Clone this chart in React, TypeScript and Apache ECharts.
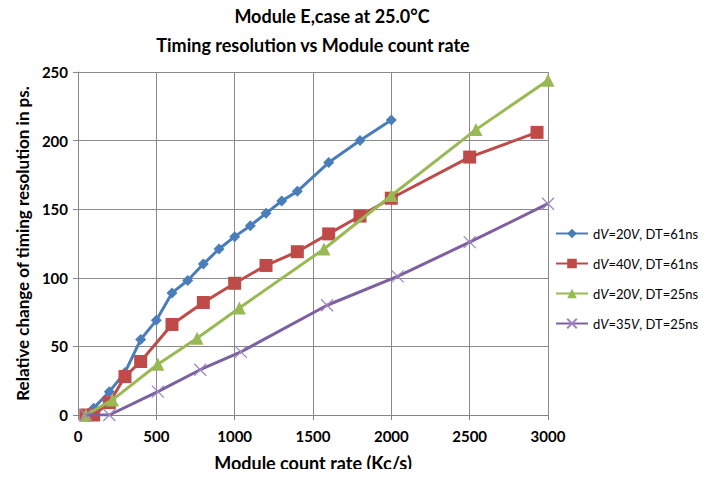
import React, { useEffect, useRef } from "react";
import * as echarts from "echarts";

const titleLine1 = "Module E,case at 25.0°C";
const titleLine2 = "Timing resolution vs Module count rate";
const xName = "Module count rate (Kc/s)";
const yName = "Relative change of timing resolution in ps.";

const seriesNames = [
  "dV=20V, DT=61ns",
  "dV=40V, DT=61ns",
  "dV=20V, DT=25ns",
  "dV=35V, DT=25ns",
];

const blueData: number[][] = [
  [50, 0], [100, 5], [200, 17], [300, 31], [400, 55], [500, 69], [600, 89],
  [700, 98], [800, 110], [900, 121], [1000, 130], [1100, 138], [1200, 147],
  [1300, 156], [1400, 163], [1600, 184], [1800, 200], [2000, 215],
];
const redData: number[][] = [
  [50, 0], [100, 0], [200, 9], [300, 28], [400, 39], [600, 66], [800, 82],
  [1000, 96], [1200, 109], [1400, 119], [1600, 132], [1800, 145], [2000, 158],
  [2500, 188], [2930, 206],
];
const greenData: number[][] = [
  [50, 0], [220, 11], [510, 37], [760, 56], [1030, 78], [1570, 121],
  [2000, 160], [2540, 208], [3000, 244],
];
const purpleData: number[][] = [
  [50, 0], [200, 0], [510, 17], [780, 33], [1040, 46], [1590, 80],
  [2040, 101], [2500, 126], [3000, 154],
];

const colors = ["#4A7EBB", "#BE4B48", "#98B954", "#7D60A0"];
const FONT = "Lato";

export default function App() {
  const ref = useRef<HTMLDivElement>(null);
  useEffect(() => {
    if (!ref.current) return;
    const chart = echarts.init(ref.current, null, { renderer: "svg" });
    const formatLegend = (name: string) => {
      const parts = name.split("V");
      return `{n|${parts[0]}}{i|V}{n|${parts[1]}}{i|V}{n|${parts.slice(2).join("V")}}`;
    };
    const mk = (i: number, data: number[][], symbol: string, size: number, extra: any = {}) => ({
      type: "line",
      name: seriesNames[i],
      data,
      symbol,
      symbolSize: size,
      lineStyle: { color: colors[i], width: 3 },
      itemStyle: { color: colors[i], ...extra },
      z: 2 + i,
    });
    chart.setOption({
      animation: false,
      textStyle: { fontFamily: FONT },
      graphic: [
        {
          type: "text",
          x: 332,
          y: 16,
          style: {
            text: titleLine1,
            font: `bold 18px ${FONT}`,
            fill: "#000",
            textAlign: "center",
            textVerticalAlign: "middle",
          },
        },
        {
          type: "text",
          x: 313,
          y: 45,
          style: {
            text: titleLine2,
            font: `bold 18px ${FONT}`,
            fill: "#000",
            textAlign: "center",
            textVerticalAlign: "middle",
          },
        },
      ],
      legend: {
        orient: "vertical",
        left: 555,
        top: 227,
        padding: 0,
        itemWidth: 32,
        itemHeight: 12,
        itemGap: 17,
        data: seriesNames,
        formatter: formatLegend,
        textStyle: {
          fontFamily: FONT,
          fontSize: 13,
          color: "#000",
          rich: {
            n: { fontFamily: FONT, fontSize: 13, color: "#000" },
            i: { fontFamily: FONT, fontSize: 13, color: "#000", fontStyle: "italic" },
          },
        },
      },
      grid: { left: 78, right: 159, top: 72, bottom: 60, containLabel: false },
      xAxis: {
        type: "value",
        min: 0,
        max: 3000,
        interval: 500,
        name: xName,
        nameLocation: "middle",
        nameGap: 39,
        nameTextStyle: { fontFamily: FONT, fontSize: 18, fontWeight: "bold", color: "#000" },
        axisLine: { show: true, lineStyle: { color: "#868686", width: 1 } },
        axisTick: { show: true, length: 5, lineStyle: { color: "#868686" } },
        axisLabel: {
          fontFamily: FONT,
          fontSize: 15,
          fontWeight: "bold",
          color: "#000",
          margin: 13,
          formatter: (v: number) => String(v),
        },
        splitLine: { show: true, lineStyle: { color: "#8a8a8a", width: 1 } },
      },
      yAxis: {
        type: "value",
        min: 0,
        max: 250,
        interval: 50,
        name: yName,
        nameLocation: "middle",
        nameGap: 47,
        nameTextStyle: { fontFamily: FONT, fontSize: 17, fontWeight: "bold", color: "#000" },
        axisLine: { show: true, lineStyle: { color: "#868686", width: 1 } },
        axisTick: { show: true, length: 5, lineStyle: { color: "#868686" } },
        axisLabel: {
          fontFamily: FONT,
          fontSize: 15,
          fontWeight: "bold",
          color: "#000",
          margin: 10,
          formatter: (v: number) => String(v),
        },
        splitLine: { show: true, lineStyle: { color: "#8a8a8a", width: 1 } },
      },
      series: [
        mk(0, blueData, "diamond", 11),
        mk(1, redData, "rect", 13),
        mk(2, greenData, "triangle", 13),
        mk(3, purpleData, "path://M0,0L10,10M10,0L0,10", 12, {
          borderColor: "#9c86c0",
          borderWidth: 1.2,
        }),
      ],
    });
    return () => chart.dispose();
  }, []);
  return <div ref={ref} style={{ width: 707, height: 477, margin: -8 }} />;
}
